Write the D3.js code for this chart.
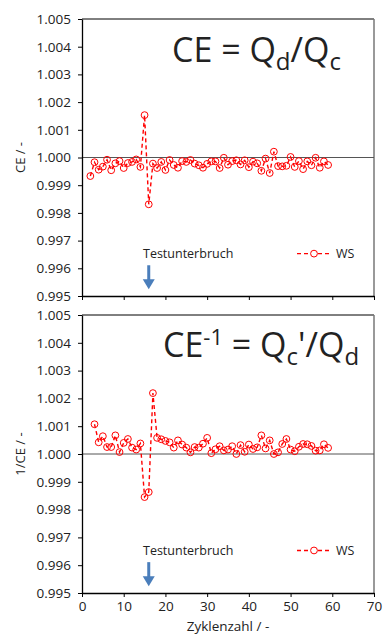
<!DOCTYPE html>
<html><head><meta charset="utf-8">
<script src="https://cdn.jsdelivr.net/npm/d3@7"></script>
<style>
html,body{margin:0;padding:0;background:#fff;}
svg text{font-family:"Open Sans",sans-serif;fill:#222;}
</style></head>
<body><svg id="c" width="385" height="635"></svg>
<script>
const cyclesCE = [2,3,4,5,6,7,8,9,10,11,12,13,14,15,16,17,18,19,20,21,22,23,24,25,26,27,28,29,30,31,32,33,34,35,36,37,38,39,40,41,42,43,44,45,46,47,48,49,50,51,52,53,54,55,56,57,58,59];
const valuesCE = [0.99933,0.99983,0.99956,0.99967,0.99992,0.99954,0.99979,0.99987,0.99962,0.99980,0.99984,0.99993,0.99966,1.00153,0.99831,0.99978,0.99962,0.99984,0.99955,0.99991,0.99973,0.99963,0.99987,0.99984,0.99991,0.99978,0.99972,0.99963,0.99977,0.99986,0.99986,0.99962,0.99999,0.99974,0.99987,0.99990,0.99975,0.99990,0.99965,0.99985,0.99979,0.99952,0.99996,0.99944,1.00021,0.99969,0.99968,0.99970,1.00002,0.99966,0.99987,0.99958,0.99986,0.99972,0.99999,0.99963,0.99986,0.99973];
const cyclesInv = [3,4,5,6,7,8,9,10,11,12,13,14,15,16,17,18,19,20,21,22,23,24,25,26,27,28,29,30,31,32,33,34,35,36,37,38,39,40,41,42,43,44,45,46,47,48,49,50,51,52,53,54,55,56,57,58,59];
const valuesInv = [1.00107,1.00042,1.00064,1.00025,1.00025,1.00067,1.00007,1.00040,1.00054,1.00023,1.00016,1.00038,0.99845,0.99863,1.00219,1.00058,1.00053,1.00047,1.00042,1.00023,1.00049,1.00034,1.00023,1.00006,1.00025,1.00023,1.00037,1.00058,1.00003,1.00017,1.00028,1.00013,1.00016,1.00028,1.00000,1.00032,1.00008,1.00034,1.00018,1.00024,1.00067,1.00020,1.00049,1.00000,1.00006,1.00036,1.00054,1.00016,1.00010,1.00026,1.00036,1.00035,1.00029,1.00012,1.00013,1.00035,1.00022];
const yTicks = [0.995,0.996,0.997,0.998,0.999,1.000,1.001,1.002,1.003,1.004,1.005];
const xTicks = [0,10,20,30,40,50,60,70];
const seriesName = "WS";
const annotation = "Testunterbruch";
const breakCycle = 16;

const svg = d3.select("#c");
const x = d3.scaleLinear().domain([0,70]).range([82,374]);
const red = "#ff0000";

function panel(y0, y1, cycles, values, ylabel, showXLabels, titleParts, titleX, titleY) {
  const y = d3.scaleLinear().domain([0.995,1.005]).range([y1,y0]);
  const g = svg.append("g");
  g.append("line").attr("x1",x(0)).attr("x2",x(70)).attr("y1",y(1.005)).attr("y2",y(1.005)).attr("stroke","#000").attr("stroke-width",1);
  g.append("line").attr("x1",x(70)).attr("x2",x(70)).attr("y1",y(1.005)).attr("y2",y(0.995)).attr("stroke","#777").attr("stroke-width",1.5);
  g.append("line").attr("x1",x(0)).attr("x2",x(70)).attr("y1",y(1)).attr("y2",y(1)).attr("stroke","#555").attr("stroke-width",1);
  const ya = g.append("g").attr("transform",`translate(${x(0)},0)`)
    .call(d3.axisLeft(y).tickValues(yTicks).tickFormat(d3.format(".3f")).tickSize(4).tickSizeOuter(0));
  ya.select(".domain").attr("stroke","#000").attr("stroke-width",1.3);
  ya.selectAll(".tick line").attr("stroke","#000");
  ya.selectAll(".tick text").attr("x",-11).style("font-size","13.5px").style("font-family","'Open Sans',sans-serif").attr("fill","#222");
  const xa = g.append("g").attr("transform",`translate(0,${y(0.995)})`)
    .call(d3.axisBottom(x).tickValues(xTicks).tickSize(4).tickSizeOuter(0).tickFormat(showXLabels? d3.format("d") : ""));
  xa.select(".domain").attr("stroke","#000").attr("stroke-width",1.3);
  xa.selectAll(".tick line").attr("stroke","#000");
  xa.selectAll(".tick text").attr("y",8).style("font-size","13.5px").style("font-family","'Open Sans',sans-serif").attr("fill","#222");
  g.append("text").attr("transform",`translate(25,${(y0+y1)/2}) rotate(-90)`).attr("text-anchor","middle")
    .style("font-size","13px").text(ylabel);
  const pts = cycles.map((c,i)=>[c,values[i]]);
  g.append("path").datum(pts).attr("fill","none").attr("stroke",red).attr("stroke-width",1.4)
    .attr("stroke-dasharray","4,3")
    .attr("d", d3.line().x(d=>x(d[0])).y(d=>y(d[1])));
  g.selectAll("circle.m").data(pts).enter().append("circle")
    .attr("cx",d=>x(d[0])).attr("cy",d=>y(d[1])).attr("r",3.4)
    .attr("fill","none").attr("stroke",red).attr("stroke-width",1);
  const t = g.append("text").attr("x",titleX).attr("y",titleY).style("font-size","34px");
  titleParts.forEach(p=>{
    const ts = t.append("tspan").text(p.t);
    if (p.sub) ts.attr("dy",8).style("font-size","24px");
    else if (p.sup) ts.attr("dy",-12).style("font-size","22px");
    else if (p.back) ts.attr("dy",p.back);
  });
  g.append("text").attr("x",143).attr("y",y(0.99637)).style("font-size","12.5px").text(annotation);
  const ax = x(breakCycle);
  const aTop = y(0.99611), aBot = y(0.99524);
  g.append("line").attr("x1",ax).attr("x2",ax).attr("y1",aTop).attr("y2",aBot-9).attr("stroke","#4a7ebb").attr("stroke-width",3);
  g.append("path").attr("d",`M${ax-6},${aBot-10} L${ax+6},${aBot-10} L${ax},${aBot} Z`).attr("fill","#4a7ebb");
  const ly = y(0.99653);
  g.append("line").attr("x1",297).attr("x2",331).attr("y1",ly).attr("y2",ly).attr("stroke",red).attr("stroke-width",1.4).attr("stroke-dasharray","4,3");
  g.append("circle").attr("cx",314).attr("cy",ly).attr("r",3.4).attr("fill","#fff").attr("stroke",red).attr("stroke-width",1);
  g.append("text").attr("x",336).attr("y",ly+4.5).style("font-size","12.5px").text(seriesName);
}

panel(19, 296, cyclesCE, valuesCE, "CE / -", false,
  [{t:"CE = Q"},{t:"d",sub:true},{t:"/Q",back:-8},{t:"c",sub:true}], 172, 62);
panel(315, 593, cyclesInv, valuesInv, "1/CE / -", true,
  [{t:"CE"},{t:"-1",sup:true},{t:" = Q",back:12},{t:"c",sub:true},{t:"'/Q",back:-8},{t:"d",sub:true}], 163, 357);

svg.append("text").attr("x",228).attr("y",631).attr("text-anchor","middle").style("font-size","13.5px").text("Zyklenzahl / -");
</script></body></html>
